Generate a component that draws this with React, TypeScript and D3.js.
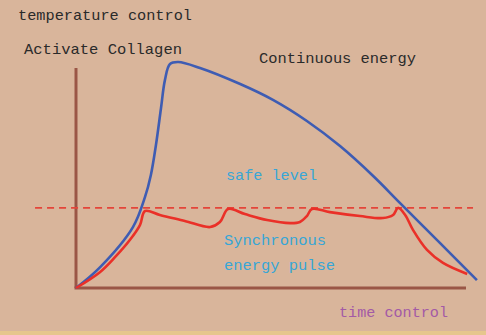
import React from "react";
import * as d3 from "d3";

const W = 486;
const H = 335;

// Continuous energy curve (time, temperature) in 0-100 units
const continuousT = [0, 6.2, 14.6, 17.7, 19.2, 20.5, 21.8, 22.8, 24.1, 26.2, 31.8, 42.1, 50.5, 59.2, 67.7, 76.2, 83.1, 93.3, 102.8];
const continuousV = [0, 9.5, 27.7, 41.4, 51.4, 65, 81.8, 94.5, 101.8, 102.7, 100, 92.7, 85.5, 75.9, 64.5, 50.9, 38.6, 20.5, 3.6];

// Synchronous energy pulse curve
const pulseT = [0, 6.2, 10.0, 13.8, 16.4, 17.7, 21.5, 27.9, 34.4, 36.9, 39, 43.3, 49, 54.9, 57.4, 59.2, 60.5, 65.1, 72.8, 78.7, 81.3, 82.6, 84.4, 86.4, 90, 94.1, 100.3];
const pulseV = [0, 7.3, 14, 21.8, 28.6, 35, 33.2, 30.5, 27.7, 30, 35.9, 33.6, 30.9, 29.5, 30, 32.7, 35.9, 34.5, 32.7, 31.8, 33.2, 36.4, 33.2, 26.4, 17.3, 11.4, 6.4];

const safeLevel = 36.4;
const safeRange = [-10.5, 101.8];

const labels = {
  yTitle: "temperature control",
  activate: "Activate Collagen",
  continuous: "Continuous energy",
  safe: "safe level",
  sync1: "Synchronous",
  sync2: "energy pulse",
  xTitle: "time control",
};

export default function App() {
  const x = d3.scaleLinear().domain([0, 100]).range([76, 466]);
  const y = d3.scaleLinear().domain([0, 100]).range([288, 68]);

  const line = d3
    .line<[number, number]>()
    .x((d) => x(d[0]))
    .y((d) => y(d[1]))
    .curve(d3.curveCatmullRom.alpha(0.5));

  const blue = continuousT.map((t, i) => [t, continuousV[i]] as [number, number]);
  const red = pulseT.map((t, i) => [t, pulseV[i]] as [number, number]);

  const font = "'Liberation Mono', 'DejaVu Sans Mono', monospace";
  const axisColor = "#9a5646";

  return (
    <svg
      width={W}
      height={H}
      style={{ position: "absolute", left: 0, top: 0, display: "block" }}
    >
      <rect x={0} y={0} width={W} height={H} fill="#d9b59b" />
      <rect x={0} y={331} width={W} height={4} fill="#e6c68c" />

      {/* axes */}
      <line x1={x(0)} y1={y(0)} x2={x(0)} y2={y(100)} stroke={axisColor} strokeWidth={3} />
      <line x1={x(0) - 1.5} y1={y(0)} x2={x(100)} y2={y(0)} stroke={axisColor} strokeWidth={3} />

      {/* safe level */}
      <line
        x1={x(safeRange[0])}
        x2={x(safeRange[1])}
        y1={y(safeLevel)}
        y2={y(safeLevel)}
        stroke="#e4453a"
        strokeWidth={1.6}
        strokeDasharray="7,5"
      />

      <path d={line(blue) ?? ""} fill="none" stroke="#3e5cb3" strokeWidth={2.6} strokeLinejoin="round" />
      <path d={line(red) ?? ""} fill="none" stroke="#ea3028" strokeWidth={2.6} strokeLinejoin="round" />

      <g fontFamily={font} fontSize={15}>
        <text x={18} y={20} fill="#2a2a2a" textLength={174} lengthAdjust="spacingAndGlyphs">{labels.yTitle}</text>
        <text x={24} y={54} fill="#2a2a2a" textLength={158} lengthAdjust="spacingAndGlyphs">{labels.activate}</text>
        <text x={259} y={63} fill="#2a2a2a" textLength={157} lengthAdjust="spacingAndGlyphs">{labels.continuous}</text>
        <text x={226} y={180} fill="#37a6d6" textLength={91} lengthAdjust="spacingAndGlyphs">{labels.safe}</text>
        <text x={224} y={245} fill="#37a6d6" textLength={102} lengthAdjust="spacingAndGlyphs">{labels.sync1}</text>
        <text x={224} y={270} fill="#37a6d6" textLength={111} lengthAdjust="spacingAndGlyphs">{labels.sync2}</text>
        <text x={339} y={317} fill="#a35aa6" textLength={109} lengthAdjust="spacingAndGlyphs">{labels.xTitle}</text>
      </g>
    </svg>
  );
}
